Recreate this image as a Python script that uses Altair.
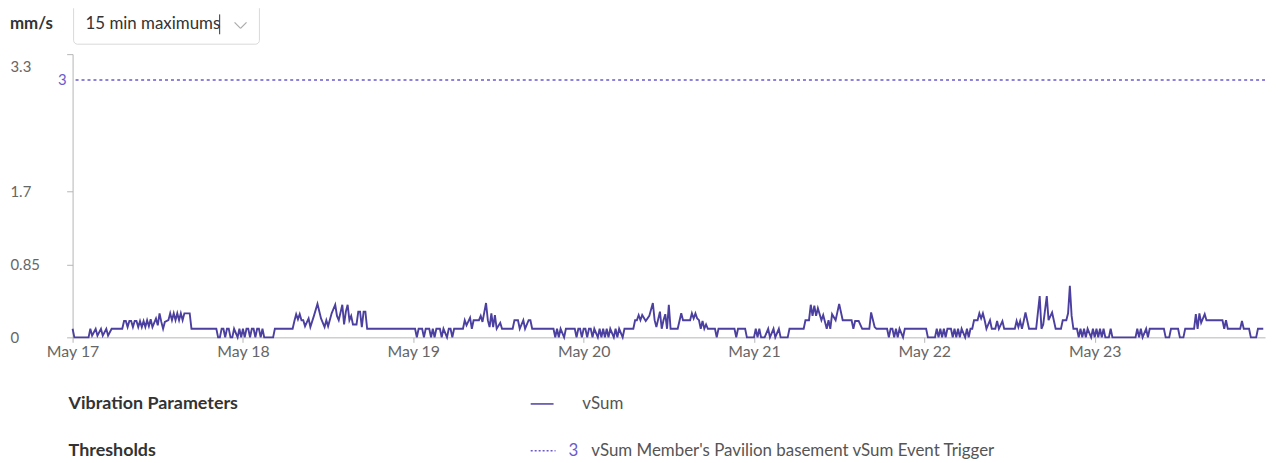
import altair as alt
import pandas as pd

FONT = "Lato"
LINE = "#4b3f9f"
TH = "#6a5acd"

# (hours since May 17 00:00, vSum mm/s)
day1 = [(0, 0.1), (0.25, 0), (2.25, 0), (2.5, 0.1), (2.75, 0.02), (3.25, 0.1), (3.5, 0.02), (4.0, 0.1), (4.25, 0.02),
        (4.75, 0.1), (5.0, 0.02), (5.5, 0.1), (7.0, 0.1), (7.25, 0.19), (7.5, 0.19), (7.75, 0.12), (8.0, 0.19),
        (8.25, 0.19), (8.5, 0.12), (8.75, 0.19), (9.0, 0.19), (9.25, 0.12), (9.5, 0.19), (9.75, 0.12), (10.0, 0.19),
        (10.25, 0.12), (10.5, 0.2), (10.75, 0.13), (11.0, 0.21), (11.25, 0.12), (11.75, 0.22), (12.0, 0.14),
        (12.25, 0.28), (12.5, 0.18), (12.75, 0.1), (13.0, 0.18), (13.5, 0.2), (13.75, 0.28), (14.0, 0.2),
        (14.25, 0.28), (14.5, 0.2), (14.75, 0.28), (15.0, 0.2), (15.25, 0.28), (15.5, 0.2), (15.75, 0.28),
        (16.5, 0.28), (16.75, 0.1), (20.25, 0.1), (20.5, 0), (20.75, 0), (21.0, 0.1), (21.25, 0.1), (21.5, 0),
        (21.75, 0.1), (22.0, 0.1), (22.25, 0), (22.5, 0), (22.75, 0.1), (23.25, 0), (23.5, 0.1), (23.75, 0)]
day2 = [(24.0, 0.1), (24.25, 0), (24.5, 0.1), (24.75, 0.1), (25.0, 0), (25.25, 0.1), (25.5, 0.1), (25.75, 0),
        (26.0, 0.1), (26.25, 0.1), (26.5, 0), (26.75, 0.1), (27.0, 0), (28.25, 0), (28.5, 0.1), (31.0, 0.1),
        (31.25, 0.19), (31.5, 0.27), (31.75, 0.21), (32.0, 0.27), (32.25, 0.2), (32.5, 0.2), (32.75, 0.13),
        (33.25, 0.22), (33.5, 0.12), (34.0, 0.25), (34.5, 0.39), (35.0, 0.22), (35.5, 0.12), (35.75, 0.2),
        (36.0, 0.13), (36.5, 0.28), (37.0, 0.38), (37.25, 0.25), (37.5, 0.2), (38.0, 0.38), (38.25, 0.15),
        (38.5, 0.3), (38.75, 0.38), (39.0, 0.2), (39.25, 0.25), (39.5, 0.15), (40.0, 0.15), (40.25, 0.3),
        (40.5, 0.3), (40.75, 0.12), (41.0, 0.3), (41.25, 0.3), (41.5, 0.1)]
day3 = [(48.25, 0.1), (48.5, 0), (48.75, 0.1), (49.25, 0.1), (49.5, 0), (49.75, 0.1), (50.25, 0.1), (50.5, 0),
        (50.75, 0.1), (51.0, 0), (51.25, 0.1), (51.75, 0.1), (52.0, 0), (52.25, 0.1), (52.75, 0), (53.0, 0.1),
        (53.25, 0.1), (53.5, 0), (53.75, 0.1), (55.0, 0.1), (55.25, 0.2), (55.5, 0.14), (56.0, 0.23),
        (56.25, 0.1), (56.5, 0.2), (57.25, 0.2), (57.5, 0.25), (57.75, 0.18), (58.25, 0.4), (58.5, 0.2),
        (58.75, 0.12), (59.0, 0.28), (59.25, 0.12), (59.5, 0.26), (59.75, 0.1), (60.25, 0.17), (60.5, 0.1),
        (62.0, 0.1), (62.25, 0.2), (62.75, 0.2), (63.0, 0.1), (63.5, 0.2), (63.75, 0.1), (64.25, 0.2),
        (64.5, 0.2), (64.75, 0.1), (67.75, 0.1), (68.0, 0), (68.25, 0.1), (68.5, 0), (68.75, 0.1), (69.25, 0),
        (69.5, 0.1), (70.75, 0.1), (71.0, 0), (71.25, 0.1), (71.5, 0.1), (71.75, 0)]
day4 = [(72.0, 0.1), (72.25, 0.1), (72.5, 0), (72.75, 0.1), (73.0, 0.1), (73.25, 0), (73.5, 0.1), (74.0, 0),
        (74.25, 0.1), (74.5, 0), (74.75, 0.1), (75.0, 0), (75.25, 0.1), (75.5, 0), (75.75, 0.1), (76.25, 0),
        (76.5, 0.1), (76.75, 0), (77.0, 0.1), (77.5, 0), (77.75, 0.1), (79.0, 0.1), (79.25, 0.2), (79.5, 0.2),
        (79.75, 0.26), (80.0, 0.2), (80.25, 0.26), (80.75, 0.19), (81.25, 0.25), (81.75, 0.4), (82.0, 0.2),
        (82.25, 0.12), (82.75, 0.3), (83.0, 0.1), (83.25, 0.2), (83.5, 0.27), (83.75, 0.1), (84.0, 0.38),
        (84.25, 0.1), (85.25, 0.1), (85.75, 0.28), (86.0, 0.2), (87.0, 0.2), (87.25, 0.28), (87.5, 0.22),
        (87.75, 0.28), (88.0, 0.22), (88.25, 0.2), (88.5, 0.1), (88.75, 0.19), (89.0, 0.1), (89.25, 0.15),
        (89.5, 0.1), (90.5, 0.1), (90.75, 0), (91.0, 0.1), (93.25, 0.1), (93.5, 0), (93.75, 0.1), (94.75, 0.1),
        (95.0, 0), (95.75, 0)]
day5 = [(96.0, 0), (96.25, 0.1), (96.5, 0), (96.75, 0.1), (97.0, 0), (97.5, 0), (98.0, 0.1), (98.25, 0),
        (98.75, 0.1), (99.0, 0), (99.5, 0.1), (99.75, 0), (100.75, 0), (101.0, 0.1), (103.0, 0.1), (103.25, 0.2),
        (103.75, 0.2), (104.0, 0.38), (104.25, 0.25), (104.5, 0.37), (104.75, 0.25), (105.0, 0.34), (105.5, 0.2),
        (105.75, 0.26), (106.25, 0.1), (106.5, 0.2), (106.75, 0.1), (107.0, 0.27), (107.5, 0.2), (108.0, 0.39),
        (108.5, 0.2), (109.75, 0.2), (110.0, 0.1), (110.25, 0.19), (110.75, 0.19), (111.25, 0.1), (112.25, 0.1),
        (112.5, 0.29), (113.0, 0.12), (113.25, 0.1), (114.75, 0.1), (115.0, 0), (115.25, 0.1), (115.5, 0.1),
        (115.75, 0), (116.0, 0.1), (116.25, 0), (116.5, 0.1), (117.0, 0), (117.25, 0.1)]
day6 = [(120.25, 0.1), (120.5, 0), (121.5, 0), (121.75, 0.1), (122.0, 0), (122.25, 0.1), (122.5, 0),
        (122.75, 0.1), (123.0, 0), (123.25, 0.1), (123.75, 0.1), (124.0, 0), (124.25, 0.1), (124.5, 0),
        (124.75, 0.1), (125.0, 0), (125.25, 0.1), (125.75, 0), (126.0, 0.1), (126.25, 0), (126.5, 0.1),
        (126.75, 0.1), (127.0, 0.2), (127.5, 0.2), (127.75, 0.28), (128.0, 0.22), (128.25, 0.28), (128.5, 0.2),
        (128.75, 0.1), (129.25, 0.2), (129.5, 0.1), (130.0, 0.1), (130.25, 0.19), (130.5, 0.1), (131.0, 0.19),
        (131.25, 0.1), (132.75, 0.1), (133.0, 0.19), (133.25, 0.12), (133.5, 0.19), (133.75, 0.1), (134.0, 0.19),
        (134.25, 0.29), (134.75, 0.1), (135.75, 0.1), (136.25, 0.48), (136.5, 0.1), (136.75, 0.15),
        (137.25, 0.48), (137.5, 0.2), (138.0, 0.29), (138.5, 0.1), (139.25, 0.1), (139.5, 0.2), (140.0, 0.2),
        (140.25, 0.28), (140.5, 0.6), (140.75, 0.25), (141.0, 0.1), (141.5, 0.1), (141.75, 0), (142.0, 0.1),
        (142.25, 0), (142.5, 0.1), (142.75, 0), (143.0, 0.1), (143.5, 0), (143.75, 0.1)]
day7 = [(144.0, 0), (144.25, 0.1), (144.5, 0), (144.75, 0.1), (145.0, 0), (145.25, 0.1), (145.5, 0), (146.0, 0),
        (146.25, 0.1), (146.5, 0), (149.75, 0), (150.0, 0.1), (150.25, 0), (150.5, 0.1), (150.75, 0),
        (151.25, 0.1), (151.5, 0), (151.75, 0.1), (152.0, 0.1), (153.75, 0.1), (154.0, 0), (154.5, 0),
        (154.75, 0.1), (155.75, 0.1), (156.0, 0), (156.5, 0), (156.75, 0.1), (158.0, 0.1), (158.25, 0.27),
        (158.5, 0.1), (158.75, 0.28), (159.0, 0.17), (159.5, 0.27), (159.75, 0.2), (162.0, 0.2), (162.25, 0.1),
        (162.5, 0.2), (162.75, 0.1), (164.5, 0.1), (164.75, 0.19), (165.0, 0.1), (165.75, 0.1), (166.0, 0),
        (166.75, 0), (167.0, 0.1), (167.75, 0.1)]

threshold_value = [3]
threshold_label = "vSum Member's Pavilion basement vSum Event Trigger"
y_ticks = [0, 0.85, 1.7, 3.3]
x_days = [17, 18, 19, 20, 21, 22, 23]

series = day1 + day2 + day3 + day4 + day5 + day6 + day7
base = pd.Timestamp("2024-05-17 00:00")
df = pd.DataFrame({
    "time": [base + pd.Timedelta(hours=h) for h, _ in series],
    "vSum": [v for _, v in series],
})
thr_df = pd.DataFrame({"vSum": threshold_value, "t": [str(v) for v in threshold_value]})

xscale = alt.Scale(domain=[alt.DateTime(year=2024, month=5, date=17),
                           alt.DateTime(year=2024, month=5, date=24)])
xaxis = alt.Axis(values=[alt.DateTime(year=2024, month=5, date=d) for d in x_days],
                 format="%b %d", title=None, grid=False, labelFont=FONT, labelFontSize=16,
                 labelColor="#666666", tickColor="#b5b5b5", domainColor="#b5b5b5", tickSize=5,
                 labelPadding=1, labelFlush=False)
yscale = alt.Scale(domain=[0, 3.3], nice=False, zero=True)
yaxis = alt.Axis(values=y_ticks, format=".3~g", title=None, grid=False, labelFont=FONT,
                 labelFontSize=15, labelColor="#666666", tickColor="#b5b5b5",
                 domainColor="#b5b5b5", tickSize=6, labelAlign="left", labelPadding=57,
                 labelOffset={"condition": {"test": "datum.value >= 3.3", "value": 12}, "value": 0})

line = alt.Chart(df).mark_line(color=LINE, strokeWidth=1.9).encode(
    x=alt.X("time:T", scale=xscale, axis=xaxis),
    y=alt.Y("vSum:Q", scale=yscale, axis=yaxis),
)

thr_rule = alt.Chart(thr_df).mark_rule(color=TH, strokeDash=[3, 3], strokeWidth=1.5).encode(
    y=alt.Y("vSum:Q", scale=yscale, axis=yaxis)
)
thr_text = alt.Chart(thr_df).mark_text(align="right", baseline="middle", color=TH, font=FONT,
                                       fontSize=15).encode(
    x=alt.value(-6), y=alt.Y("vSum:Q", scale=yscale, axis=yaxis), text="t:N"
)


def txt(s, x, y, size=17, color="#555555", weight="normal", align="left"):
    return alt.Chart(pd.DataFrame({"t": [s]})).mark_text(
        align=align, baseline="middle", font=FONT, fontSize=size, color=color, fontWeight=weight
    ).encode(x=alt.value(x), y=alt.value(y), text="t:N")


def seg(x1, y1, x2, y2, color, width=1.5, dash=None):
    kw = dict(color=color, strokeWidth=width)
    if dash:
        kw["strokeDash"] = dash
    return alt.Chart(pd.DataFrame({"a": [0]})).mark_rule(**kw).encode(
        x=alt.value(x1), y=alt.value(y1), x2=alt.value(x2), y2=alt.value(y2)
    )


one = pd.DataFrame({"a": [0]})
dropdown = alt.Chart(one).mark_rect(fill="white", stroke="#d9d9d9", strokeWidth=1, cornerRadius=4).encode(
    x=alt.value(1), x2=alt.value(188), y=alt.value(-50), y2=alt.value(-10)
)

layers = [
    line, thr_rule, thr_text,
    txt("mm/s", -63, -30, size=17, color="#333333", weight="bold"),
    dropdown,
    txt("15 min maximums", 13, -30, size=17, color="#333333"),
    seg(148, -40, 148, -20, "#333333", width=1),
    seg(163, -32, 169, -26, "#aaaaaa", width=1.2),
    seg(169, -26, 175, -32, "#aaaaaa", width=1.2),
    txt("Vibration Parameters", -4, 352, size=18, color="#333333", weight="bold"),
    seg(461, 352, 484, 352, LINE, width=1.5),
    txt("vSum", 513, 352, size=17),
    txt("Thresholds", -4, 399, size=18, color="#333333", weight="bold"),
    seg(461, 399, 486, 399, TH, width=1.5, dash=[2, 2]),
    txt("3", 499, 399, size=17, color=TH),
    txt(threshold_label, 522, 399, size=17),
]

chart = alt.layer(*layers).properties(
    width=1200, height=285,
    autosize="none",
    padding={"left": 65, "top": 45, "right": 7, "bottom": 125},
    background="white",
).configure_view(stroke=None)

chart.save("out.html", embed_options={"renderer": "svg", "actions": False})
